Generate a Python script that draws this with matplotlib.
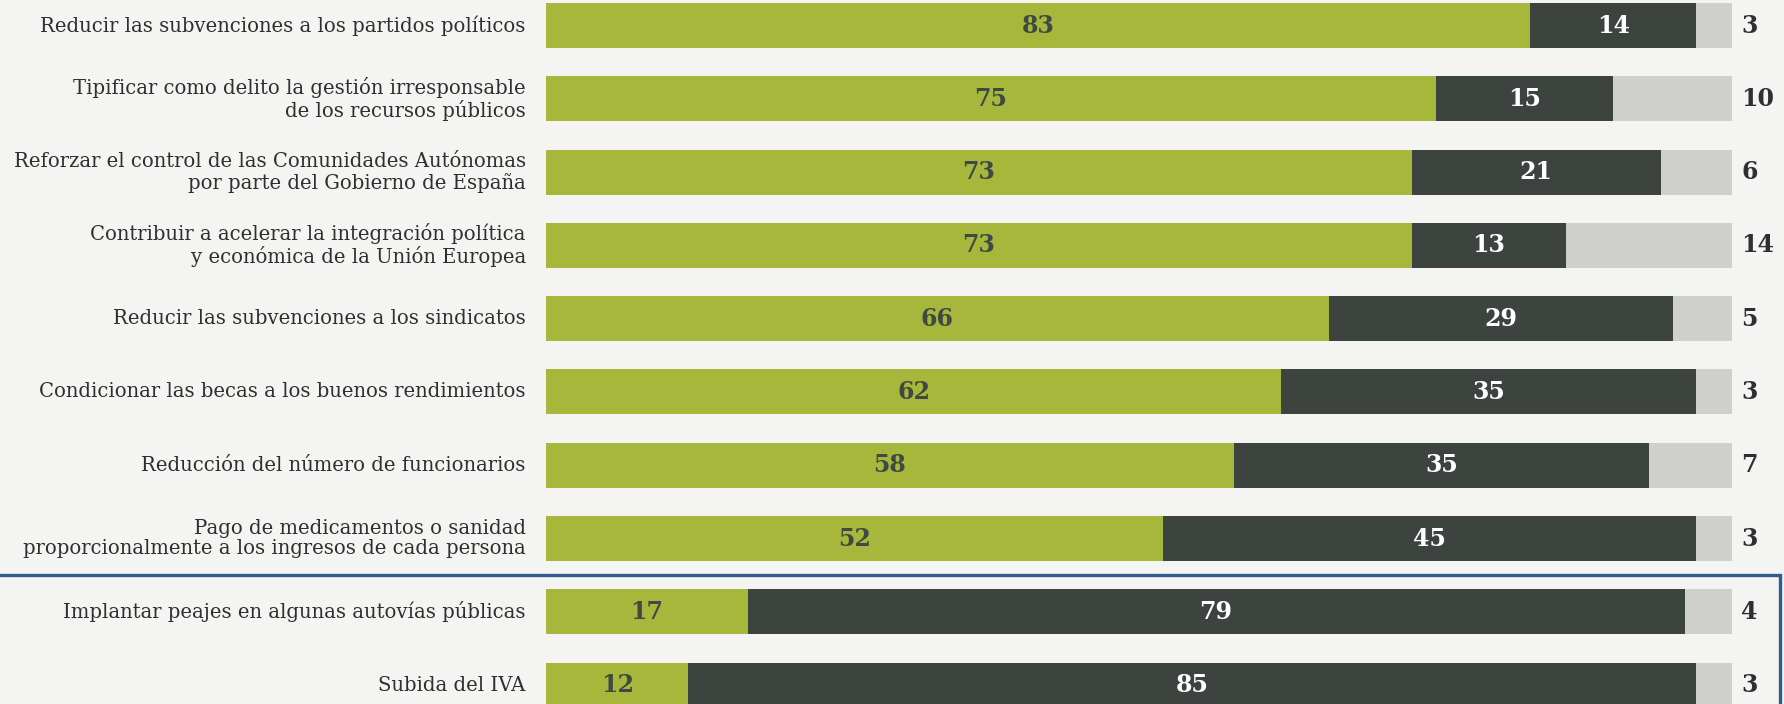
import numpy as np
import matplotlib
matplotlib.use("Agg")
import matplotlib.pyplot as plt
import matplotlib.transforms as mtransforms
from matplotlib.lines import Line2D

# -------------------------
# Data (percent, top to bottom)
# -------------------------
labels = [
    "Reducir las subvenciones a los partidos políticos",
    "Tipificar como delito la gestión irresponsable\nde los recursos públicos",
    "Reforzar el control de las Comunidades Autónomas\npor parte del Gobierno de España",
    "Contribuir a acelerar la integración política\ny económica de la Unión Europea",
    "Reducir las subvenciones a los sindicatos",
    "Condicionar las becas a los buenos rendimientos",
    "Reducción del número de funcionarios",
    "Pago de medicamentos o sanidad\nproporcionalmente a los ingresos de cada persona",
    "Implantar peajes en algunas autovías públicas",
    "Subida del IVA",
]
a_favor = [83, 75, 73, 73, 66, 62, 58, 52, 17, 12]
en_contra = [14, 15, 21, 13, 29, 35, 35, 45, 79, 85]
ns_nc = [3, 10, 6, 14, 5, 3, 7, 3, 4, 3]

# -------------------------
# Style
# -------------------------
GREEN = "#a6b73b"
DARK = "#3d433f"
LIGHT = "#cfcfcd"
BG = "#f4f4f2"
TXT = "#2e302f"
NUM_ON_GREEN = "#3f4944"
BLUE = "#325a8c"
LABEL_FONT = "DejaVu Serif"
NUM_FONT = "DejaVu Serif"

W, H = 1784, 704
fig = plt.figure(figsize=(W / 100, H / 100), dpi=100, facecolor=BG)
ax = fig.add_axes([546 / W, 0, (1732 - 546) / W, 1])
ax.patch.set_alpha(0)

y = np.arange(len(labels))
a = np.array(a_favor)
c = np.array(en_contra)
n = np.array(ns_nc)
bh = 0.614

ax.barh(y, a, height=bh, color=GREEN, linewidth=0)
ax.barh(y, c, left=a, height=bh, color=DARK, linewidth=0)
ax.barh(y, n, left=a + c, height=bh, color=LIGHT, linewidth=0)

ax.set_xlim(0, 100)
ax.set_ylim(9.257, -0.348)
ax.axis("off")

for i in range(len(labels)):
    ax.text(-1.7, y[i], labels[i], ha="right", va="center", multialignment="right",
            fontsize=14.1, family=LABEL_FONT, color=TXT, linespacing=1.12, clip_on=False)
    ax.text(a[i] / 2, y[i], str(a[i]), ha="center", va="center",
            fontsize=17, family=NUM_FONT, fontweight="bold", color=NUM_ON_GREEN)
    ax.text(a[i] + c[i] / 2, y[i], str(c[i]), ha="center", va="center",
            fontsize=17, family=NUM_FONT, fontweight="bold", color="white")
    ax.text(100.8, y[i], str(n[i]), ha="left", va="center",
            fontsize=17, family=NUM_FONT, fontweight="bold", color=TXT, clip_on=False)

# blue frame around the last two rows
trans = mtransforms.blended_transform_factory(fig.transFigure, ax.transData)
xr = 1780 / W
fig.add_artist(Line2D([0, xr, xr], [7.5, 7.5, 9.6], transform=trans,
                      color=BLUE, linewidth=2.4, solid_joinstyle="miter"))

fig.savefig("out.png", dpi=100, facecolor=BG)
